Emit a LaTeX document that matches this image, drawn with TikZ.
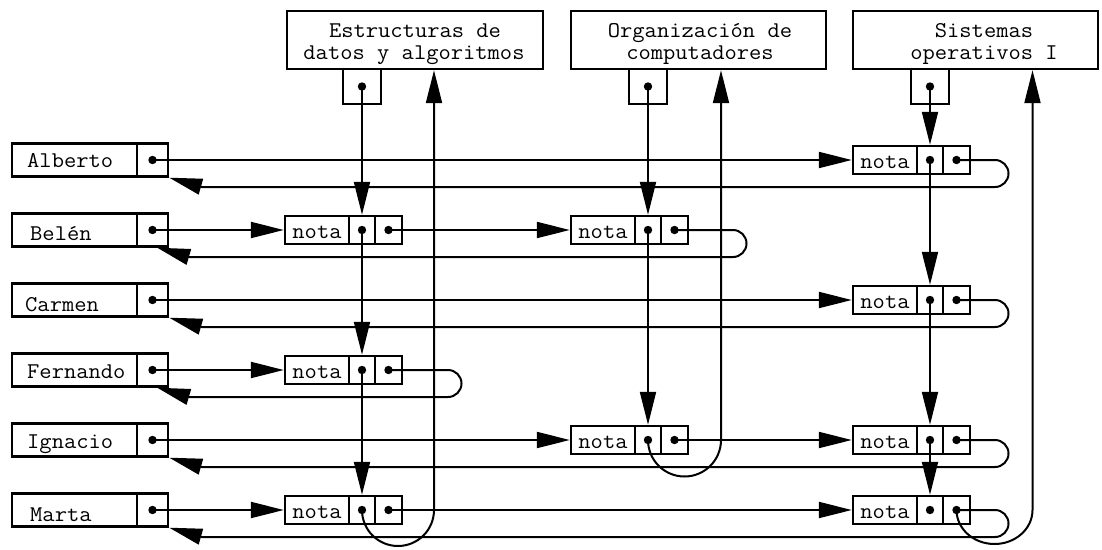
\documentclass[tikz,border=0pt]{standalone}
\usepackage{fontspec}
\setmonofont{Latin Modern Mono}[FakeStretch=1.06]
\usetikzlibrary{arrows.meta}
\newcommand\tf{\ttfamily\fontsize{22.5}{22}\selectfont}
\begin{document}
\begin{tikzpicture}[x=1pt,y=-1pt,
  box/.style={draw, line width=2.4pt, inner sep=0pt, font=\tf},
  txt/.style={inner sep=0pt, font=\tf},
  link/.style={line width=2pt},
  arr/.style={link, -{Triangle[length=33pt,width=16pt]}},
  namebox/.style={box, minimum width=125pt, minimum height=33pt},
  ptrbox/.style={box, minimum width=31pt, minimum height=33pt},
  hptr/.style={box, minimum width=38pt, minimum height=35pt},
  notabox/.style={box, minimum width=64pt, minimum height=28pt, text height=16pt, text depth=0pt},
  cella/.style={box, minimum width=26pt, minimum height=28pt},
  cellb/.style={box, minimum width=27pt, minimum height=28pt}
]
\useasboundingbox (0,0) rectangle (1102,549);

% headers
\node[box, minimum width=256pt, minimum height=58pt] (h1) at (415,40) {};
\node[box, minimum width=255pt, minimum height=58pt] (h2) at (698.5,40) {};
\node[box, minimum width=245pt, minimum height=58pt] (h3) at (975.5,40) {};
\node[txt, anchor=base] (h1a) at (415,37) {Estructuras de};
\node[txt, anchor=base] (h1b) at (414,59) {datos y algoritmos};
\node[txt, anchor=base] (h2a) at (700,37) {Organización de};
\node[txt, anchor=base] (h2b) at (700,59) {computadores};
\node[txt, anchor=base] (h3a) at (984,37) {Sistemas};
\node[txt, anchor=base] (h3b) at (984,59) {operativos I};
\node[hptr] (p1) at (362,86.5) {};
\node[hptr] (p2) at (648,86.5) {};
\node[hptr] (p3) at (930,86.5) {};

% students
\newcommand\student[4]{%
  \node[namebox] (s#1) at (74.5,#2) {};
  \node[ptrbox] (s#1p) at (152.5,#2) {};
  \node[txt, anchor=base west] (s#1t) at (#3) {#4};
}
\student{A}{160}{27,167}{Alberto}
\student{B}{230}{30,240}{Belén}
\student{C}{300}{25,311}{Carmen}
\student{F}{370}{27,378}{Fernando}
\student{I}{440}{27,448}{Ignacio}
\student{M}{510}{30,521}{Marta}

% nota cells
\newcommand\nota[3]{%
  \node[notabox] (#1) at (#2+32,#3) {nota};
  \node[cella] (#1a) at (#2+77,#3) {};
  \node[cellb] (#1b) at (#2+103.5,#3) {};
}
\nota{nA3}{853}{160}
\nota{nB1}{285}{230}
\nota{nB2}{571}{230}
\nota{nC3}{853}{300}
\nota{nF1}{285}{370}
\nota{nI2}{571}{440}
\nota{nI3}{853}{440}
\nota{nM1}{285}{510}
\nota{nM3}{853}{510}

% row links
\draw[arr] (sAp.center) -- (nA3.west);
\draw[arr] (sBp.center) -- (nB1.west);
\draw[arr] (nB1b.center) -- (nB2.west);
\draw[arr] (sCp.center) -- (nC3.west);
\draw[arr] (sFp.center) -- (nF1.west);
\draw[arr] (sIp.center) -- (nI2.west);
\draw[arr] (nI2b.center) -- (nI3.west);
\draw[arr] (sMp.center) -- (nM1.west);
\draw[arr] (nM1b.center) -- (nM3.west);

% row returns
\draw[arr] (nA3b.center) -- (995,160) arc[start angle=90,end angle=-90,radius=13.5pt] -- (202,187) -- (sAp.south east);
\draw[arr] (nB2b.center) -- (733,230) arc[start angle=90,end angle=-90,radius=13.5pt] -- (189,257) -- ([xshift=-12pt]sBp.south east);
\draw[arr] (nC3b.center) -- (995,300) arc[start angle=90,end angle=-90,radius=13.5pt] -- (202,327) -- (sCp.south east);
\draw[arr] (nF1b.center) -- (448,370) arc[start angle=90,end angle=-90,radius=13.5pt] -- (189,397) -- ([xshift=-12pt]sFp.south east);
\draw[arr] (nI3b.center) -- (995,440) arc[start angle=90,end angle=-90,radius=13.5pt] -- (202,467) -- (sIp.south east);
\draw[arr] (nM3b.center) -- (995,510) arc[start angle=90,end angle=-90,radius=13.5pt] -- (202,537) -- (sMp.south east);

% column links
\draw[arr] (p1.center) -- (nB1a.north);
\draw[arr] (nB1a.center) -- (nF1a.north);
\draw[arr] (nF1a.center) -- (nM1a.north);
\draw[arr] (p2.center) -- (nB2a.north);
\draw[arr] (nB2a.center) -- (nI2a.north);
\draw[arr] (p3.center) -- (nA3a.north);
\draw[arr] (nA3a.center) -- (nC3a.north);
\draw[arr] (nC3a.center) -- (nI3a.north);
\draw[arr] (nI3a.center) -- (nM3a.north);

% column returns
\draw[arr] (nM1a.center) arc[start angle=180,end angle=360,radius=36pt] -- (434,0 |- h1.south);
\draw[arr] (nI2a.center) arc[start angle=180,end angle=360,radius=36.5pt] -- (721,0 |- h2.south);
\draw[arr] (nM3b.center) arc[start angle=180,end angle=360,x radius=38pt,y radius=34pt] -- (1032.5,0 |- h3.south);

% dots
\foreach \n in {p1,p2,p3,sAp,sBp,sCp,sFp,sIp,sMp,nA3a,nA3b,nB1a,nB1b,nB2a,nB2b,nC3a,nC3b,nF1a,nF1b,nI2a,nI2b,nI3a,nI3b,nM1a,nM1b,nM3a,nM3b}
  \fill (\n.center) circle[radius=4.2pt];
\end{tikzpicture}
\end{document}
